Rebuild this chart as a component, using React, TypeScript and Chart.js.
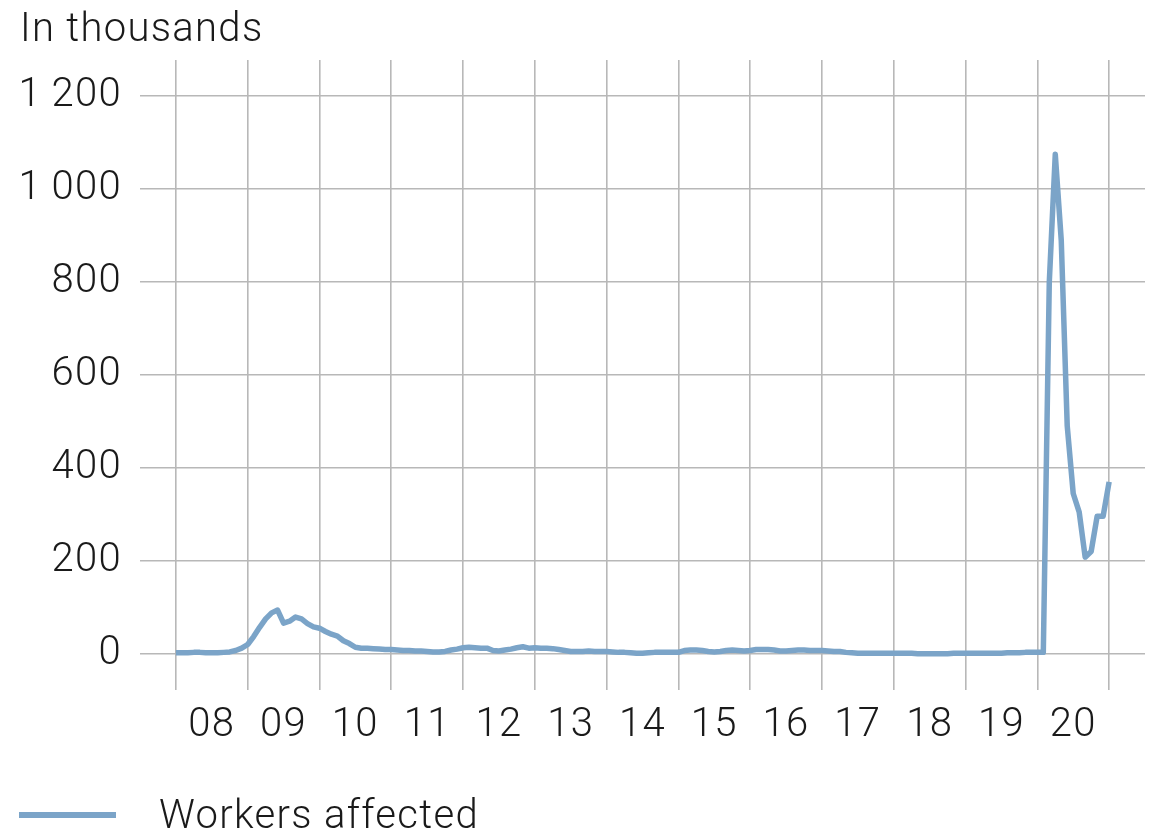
import React, { useEffect, useRef } from "react";
import { Chart, registerables } from "chart.js";

Chart.register(...registerables);

// Monthly "workers affected" (thousands), Jan 2008 .. Jan 2021
const y2008 = [2, 2, 2, 3, 3, 2, 2, 2, 3, 4, 7, 12];
const y2009 = [20, 37, 57, 75, 88, 94, 66, 70, 79, 75, 65, 58];
const y2010 = [55, 48, 42, 38, 28, 22, 14, 12, 12, 11, 10, 9];
const y2011 = [9, 8, 7, 7, 6, 6, 5, 4, 4, 5, 8, 10];
const y2012 = [13, 14, 13, 12, 12, 7, 6, 8, 10, 13, 15, 12];
const y2013 = [13, 12, 12, 11, 9, 7, 5, 5, 5, 6, 5, 5];
const y2014 = [5, 4, 3, 3, 2, 1, 1, 2, 3, 3, 3, 3];
const y2015 = [3, 7, 8, 8, 7, 5, 4, 5, 7, 8, 7, 6];
const y2016 = [7, 9, 9, 9, 8, 6, 6, 7, 8, 8, 7, 7];
const y2017 = [7, 6, 5, 5, 3, 2, 1, 1, 1, 1, 1, 1];
const y2018 = [1, 1, 1, 1, 0, 0, 0, 0, 0, 0, 1, 1];
const y2019 = [1, 1, 1, 1, 1, 1, 1, 2, 2, 2, 3, 3];
const y2020 = [3, 3, 800, 1075, 890, 490, 345, 305, 208, 220, 296, 296];
const y2021 = [370];

const yearLabels = ["08", "09", "10", "11", "12", "13", "14", "15", "16", "17", "18", "19", "20"];
const yTickValues = [0, 200, 400, 600, 800, 1000, 1200];

const seriesLabel = "Workers affected";
const unitLabel = "In thousands";

const allValues = [
  ...y2008, ...y2009, ...y2010, ...y2011, ...y2012, ...y2013, ...y2014,
  ...y2015, ...y2016, ...y2017, ...y2018, ...y2019, ...y2020, ...y2021,
];

const LINE_COLOR = "rgb(123,164,200)";
const GRID_COLOR = "rgb(184,184,184)";
const TEXT_COLOR = "#1a1a1a";
const FONT = "Roboto, 'Liberation Sans', sans-serif";
const FS = 40;
const LS = "1.3px";

const spacingPlugin = {
  id: "letterSpacing",
  beforeDraw: (chart: any) => {
    try {
      chart.ctx.letterSpacing = LS;
    } catch (e) {
      /* ignore */
    }
  },
};

export default function App() {
  const canvasRef = useRef<HTMLCanvasElement | null>(null);

  useEffect(() => {
    document.body.style.margin = "0";
    const canvas = canvasRef.current;
    if (!canvas) return;
    const points = allValues.map((v, i) => ({ x: i, y: v }));
    const chart = new Chart(canvas, {
      type: "line",
      data: {
        datasets: [
          {
            label: seriesLabel,
            data: points,
            borderColor: LINE_COLOR,
            borderWidth: 5.5,
            pointRadius: 0,
            tension: 0,
            borderJoinStyle: "round",
            fill: false,
          },
        ],
      },
      plugins: [spacingPlugin],
      options: {
        animation: false,
        responsive: false,
        maintainAspectRatio: false,
        layout: { padding: { top: 60, right: 14, bottom: 0, left: 0 } },
        plugins: { legend: { display: false }, tooltip: { enabled: false } },
        scales: {
          x: {
            type: "linear",
            min: -6,
            max: 162,
            border: { display: false },
            afterFit: (s: any) => {
              s.height = 143;
            },
            grid: {
              drawTicks: false,
              lineWidth: 1.6,
              color: (ctx: any) => {
                const v = ctx.tick ? ctx.tick.value : 0;
                return v % 12 === 0 && v >= 0 && v <= 156 ? GRID_COLOR : "rgba(0,0,0,0)";
              },
            },
            ticks: {
              stepSize: 6,
              includeBounds: false,
              autoSkip: false,
              maxRotation: 0,
              padding: 12,
              color: TEXT_COLOR,
              font: { family: FONT, size: FS, weight: "300" as any },
              callback: (value: any) => {
                const v = Number(value);
                if (v >= 6 && v <= 150 && (v - 6) % 12 === 0) {
                  return yearLabels[(v - 6) / 12];
                }
                return "";
              },
            },
          },
          y: {
            type: "linear",
            min: -78,
            max: 1278,
            border: { display: false },
            afterFit: (s: any) => {
              s.width = 140;
            },
            afterBuildTicks: (s: any) => {
              s.ticks = yTickValues.map((v) => ({ value: v }));
            },
            grid: {
              drawTicks: false,
              lineWidth: 1.6,
              color: GRID_COLOR,
            },
            ticks: {
              stepSize: 200,
              includeBounds: false,
              padding: 18,
              color: TEXT_COLOR,
              font: { family: FONT, size: FS, weight: "300" as any },
              callback: (value: any) => {
                const v = Number(value);
                if (v >= 1000) {
                  const th = Math.floor(v / 1000);
                  const rest = String(v % 1000).padStart(3, "0");
                  return th + "\u2009" + rest;
                }
                return String(v);
              },
            },
          },
        },
      },
    });
    return () => chart.destroy();
  }, []);

  const textStyle: React.CSSProperties = {
    position: "absolute",
    fontFamily: FONT,
    fontWeight: 300,
    fontSize: FS,
    lineHeight: "48px",
    letterSpacing: LS,
    color: TEXT_COLOR,
    whiteSpace: "nowrap",
  };

  return (
    <div style={{ position: "relative", width: 1159, height: 833, overflow: "hidden", background: "#fff" }}>
      <canvas ref={canvasRef} width={1159} height={833} style={{ position: "absolute", left: 0, top: 0, width: 1159, height: 833 }} />
      <div style={{ ...textStyle, left: 20, top: 4 }}>{unitLabel}</div>
      <div style={{ position: "absolute", left: 19, top: 812, width: 97, height: 6, background: LINE_COLOR }} />
      <div style={{ ...textStyle, left: 159, top: 791 }}>{seriesLabel}</div>
    </div>
  );
}
